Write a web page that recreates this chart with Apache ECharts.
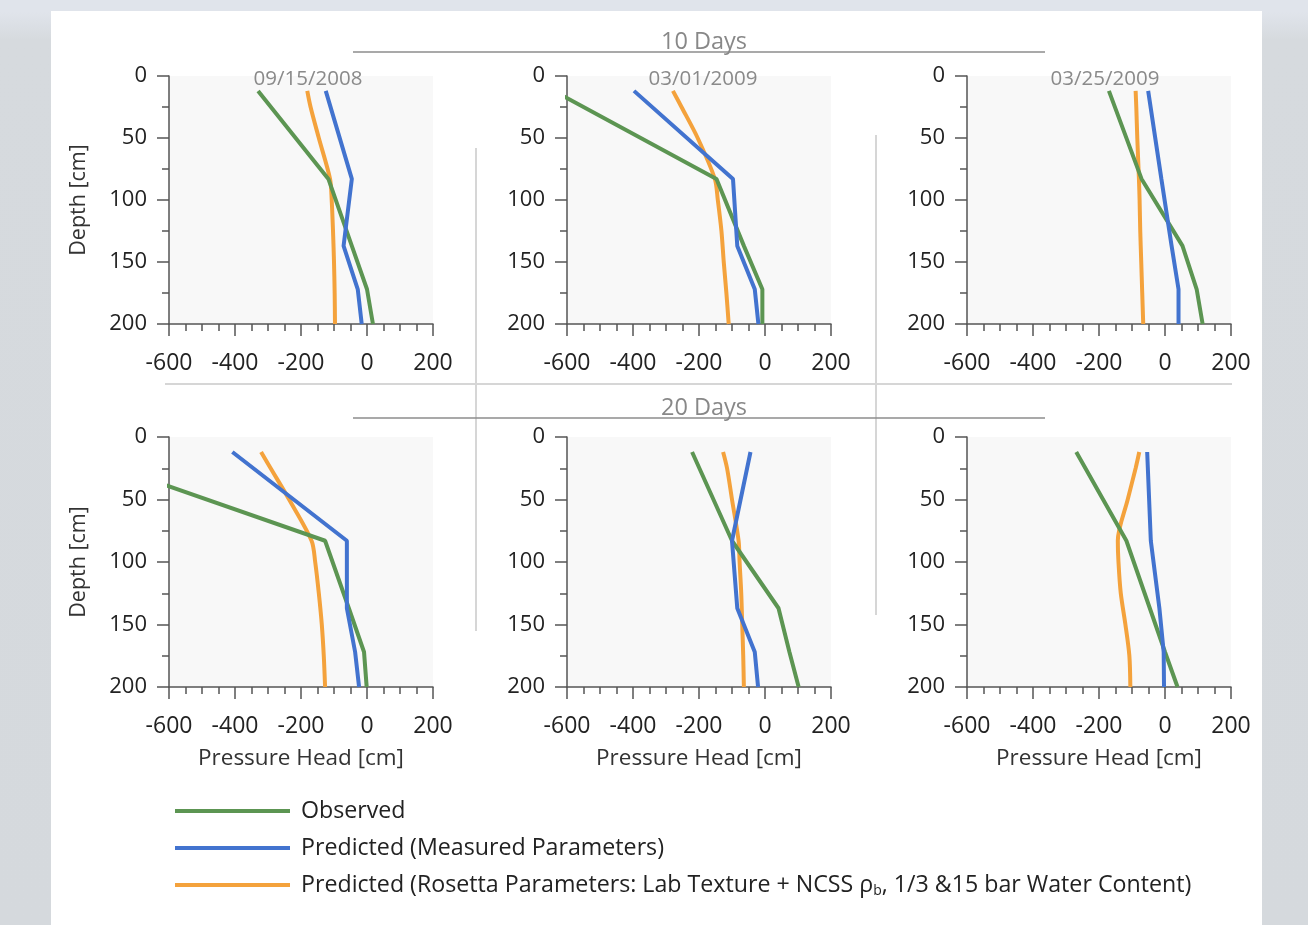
<!DOCTYPE html>
<html>
<head>
<meta charset="utf-8">
<script src="https://cdn.jsdelivr.net/npm/echarts@6/dist/echarts.min.js"></script>
<style>
html,body{margin:0;padding:0;width:1308px;height:925px;overflow:hidden;
  background:linear-gradient(#e0e4eb 0px,#e0e4eb 12px,#d6dade 40px,#d5d9dd 100%);}
#card{position:absolute;left:51px;top:11px;width:1211px;height:914px;background:#fff;}
#chart{position:absolute;left:0;top:0;width:1308px;height:925px;}
</style>
</head>
<body>
<div id="card"></div>
<div id="chart"></div>
<script>
// ---- data ----
var panelDates = ['09/15/2008', '03/01/2009', '03/25/2009', '', '', ''];
var rowTitles = ['10 Days', '20 Days'];
var seriesNames = ['Observed', 'Predicted (Measured Parameters)',
  'Predicted (Rosetta Parameters: Lab Texture + NCSS ρb, 1/3 &15 bar Water Content)'];
var xTicks = [-600, -400, -200, 0, 200];
var yTicks = [0, 50, 100, 150, 200];

var obsDepth = [12, 83, 137, 172, 200];
var measDepth = [12, 83, 137, 172, 200];
var rosDepth = [12, 25, 50, 83, 100, 125, 150, 175, 200];

// 10 days
var obs1 = [-330, -117, -46, 0, 18];
var meas1 = [-125, -46, -71, -28, -16];
var ros1 = [-181, -171, -146, -112, -107, -103, -100, -98, -97];

var obs2 = [-640, -147, -64, -8, -8];
var meas2 = [-397, -97, -84, -31, -20];
var ros2 = [-279, -253, -204, -152, -143, -132, -125, -117, -110];

var obs3 = [-170, -71, 53, 96, 114];
var meas3 = [-51, -11, 20, 41, 41];
var ros3 = [-89, -87, -84, -79, -77, -75, -72, -69, -66];

// 20 days
var obs4 = [-898, -127, -55, -9, -1];
var meas4 = [-408, -61, -61, -36, -24];
var ros4 = [-321, -292, -236, -168, -157, -146, -137, -131, -127];

var obs5 = [-221, -100, 41, 74, 102];
var meas5 = [-44, -100, -84, -31, -21];
var ros5 = [-127, -115, -100, -80, -77, -72, -69, -66, -64];

var obs6 = [-269, -117, -46, 0, 38];
var meas6 = [-54, -43, -17, -4, -3];
var ros6 = [-78, -89, -113, -143, -141, -134, -120, -108, -105];

var obsAll = [obs1, obs2, obs3, obs4, obs5, obs6];
var measAll = [meas1, meas2, meas3, meas4, meas5, meas6];
var rosAll = [ros1, ros2, ros3, ros4, ros5, ros6];

// ---- layout ----
var colors = ['#5c9552', '#4273cf', '#f4a23c'];
var gridLefts = [169, 567, 967];
var gridWidth = 264;
var gridTops = [76, 437];
var gridHeights = [248, 250];
var FONT = 'Open Sans';

function pairs(vals, depths) {
  return vals.map(function (v, i) { return [v, depths[i]]; });
}

var grids = [], xAxes = [], yAxes = [], series = [];
for (var p = 0; p < 6; p++) {
  var row = Math.floor(p / 3), col = p % 3;
  grids.push({
    left: gridLefts[col], top: gridTops[row], width: gridWidth, height: gridHeights[row],
    show: true, backgroundColor: '#f8f8f8', borderWidth: 0, containLabel: false
  });
  xAxes.push({
    type: 'value', gridIndex: p, min: -600, max: 200, interval: 200, position: 'bottom',
    name: row === 1 ? 'Pressure Head [cm]' : '', nameLocation: 'middle', nameGap: 60,
    nameTextStyle: { fontFamily: FONT, fontSize: 22.5, color: '#333' },
    axisLine: { show: true, onZero: false, lineStyle: { color: '#555', width: 1.5 } },
    axisTick: { show: true, length: 12, lineStyle: { color: '#555', width: 1.5 } },
    minorTick: { show: true, splitNumber: 4, length: 7, lineStyle: { color: '#555', width: 1.5 } },
    axisLabel: { fontFamily: FONT, fontSize: 23, color: '#222', margin: 28 },
    splitLine: { show: false }
  });
  yAxes.push({
    type: 'value', gridIndex: p, min: 0, max: 200, interval: 50, inverse: true,
    name: col === 0 ? 'Depth [cm]' : '', nameLocation: 'middle', nameGap: 79, nameRotate: 90,
    nameTextStyle: { fontFamily: FONT, fontSize: 21.5, color: '#333' },
    axisLine: { show: true, onZero: false, lineStyle: { color: '#555', width: 1.5 } },
    axisTick: { show: true, length: 12, lineStyle: { color: '#555', width: 1.5 } },
    minorTick: { show: true, splitNumber: 2, length: 7, lineStyle: { color: '#555', width: 1.5 } },
    axisLabel: { fontFamily: FONT, fontSize: 22, color: '#222', margin: 22 },
    splitLine: { show: false }
  });
  var sets = [pairs(obsAll[p], obsDepth), pairs(measAll[p], measDepth), pairs(rosAll[p], rosDepth)];
  for (var s = 0; s < 3; s++) {
    series.push({
      name: seriesNames[s], type: 'line', xAxisIndex: p, yAxisIndex: p,
      data: sets[s], showSymbol: false, symbol: 'none', clip: true,
      smooth: s === 2 ? 0.3 : false,
      lineStyle: { color: colors[s], width: 4 }, itemStyle: { color: colors[s] },
      z: s === 0 ? 3 : (s === 1 ? 4 : 2)
    });
  }
}

var titleCenters = [303, 698, 1100];
var titles = [];
for (var q = 0; q < 3; q++) {
  titles.push({
    text: panelDates[q], left: titleCenters[q], top: 64, textAlign: 'center',
    textStyle: { fontFamily: FONT, fontSize: 20.5, fontWeight: 'normal', color: '#8a8a8a' }
  });
}
titles.push({ text: rowTitles[0], left: 699, top: 25, textAlign: 'center',
  textStyle: { fontFamily: FONT, fontSize: 23.5, fontWeight: 'normal', color: '#888' } });
titles.push({ text: rowTitles[1], left: 699, top: 391, textAlign: 'center',
  textStyle: { fontFamily: FONT, fontSize: 23.5, fontWeight: 'normal', color: '#888' } });

var chart = echarts.init(document.getElementById('chart'), null, { renderer: 'canvas' });
chart.setOption({
  backgroundColor: 'transparent',
  animation: false,
  title: titles,
  grid: grids,
  xAxis: xAxes,
  yAxis: yAxes,
  series: series,
  legend: {
    data: seriesNames, orient: 'vertical', left: 175, top: 797, itemGap: 9, padding: 0,
    icon: 'rect', itemWidth: 115, itemHeight: 4, selectedMode: false,
    formatter: function (name) { return name.replace('ρb', 'ρ{sub|b}'); },
    textStyle: {
      fontFamily: FONT, fontSize: 23.2, color: '#222', lineHeight: 28, padding: [0, 0, 0, 6],
      rich: { sub: { fontFamily: FONT, fontSize: 14, color: '#222', padding: [13, 0, 0, 0] } }
    }
  },
  graphic: [
    { type: 'line', shape: { x1: 353, y1: 52, x2: 1045, y2: 52 }, style: { stroke: '#8c8c8c', lineWidth: 1.5 }, silent: true },
    { type: 'line', shape: { x1: 353, y1: 418, x2: 1045, y2: 418 }, style: { stroke: '#8c8c8c', lineWidth: 1.5 }, silent: true },
    { type: 'line', shape: { x1: 165, y1: 384, x2: 1232, y2: 384 }, style: { stroke: '#d6d6d6', lineWidth: 2 }, silent: true, z: -1 },
    { type: 'line', shape: { x1: 476, y1: 148, x2: 476, y2: 631 }, style: { stroke: '#d6d6d6', lineWidth: 2 }, silent: true, z: -1 },
    { type: 'line', shape: { x1: 876, y1: 135, x2: 876, y2: 615 }, style: { stroke: '#d6d6d6', lineWidth: 2 }, silent: true, z: -1 }
  ]
});
</script>
</body>
</html>
